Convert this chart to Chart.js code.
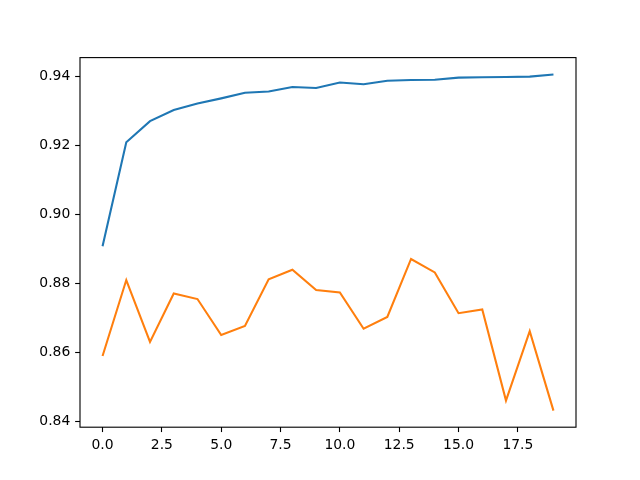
<!DOCTYPE html>
<html>
<head>
<meta charset="utf-8">
<script src="https://cdn.jsdelivr.net/npm/chart.js@4/dist/chart.umd.min.js"></script>
<style>
  html, body { margin: 0; padding: 0; background: #fff; }
  #wrap { width: 640px; height: 480px; }
</style>
</head>
<body>
<div id="wrap"><canvas id="c" width="640" height="480"></canvas></div>
<script>
const epochs = [0,1,2,3,4,5,6,7,8,9,10,11,12,13,14,15,16,17,18,19];
const seriesBlue = [0.8908,0.9209,0.9270,0.9302,0.9321,0.9336,0.9352,0.9356,0.9369,0.9366,0.9382,0.9377,0.9387,0.9389,0.9390,0.9396,0.9397,0.9398,0.9399,0.9405];
const seriesOrange = [0.8590,0.8810,0.8631,0.8771,0.8755,0.8651,0.8677,0.8812,0.8840,0.8781,0.8774,0.8669,0.8703,0.8871,0.8832,0.8714,0.8725,0.8461,0.8662,0.8432];
const xTicks = [0, 2.5, 5, 7.5, 10, 12.5, 15, 17.5];
const yTicks = [0.84, 0.86, 0.88, 0.90, 0.92, 0.94];

const PX = 1.3889;
const frame = {
  id: 'frame',
  afterDatasetsDraw(chart) {
    const a = chart.chartArea, ctx = chart.ctx;
    ctx.save();
    ctx.strokeStyle = '#000';
    ctx.lineWidth = 0.8 * PX;
    ctx.strokeRect(a.left, a.top, a.right - a.left, a.bottom - a.top);
    ctx.restore();
  }
};

const font = { family: 'DejaVu Sans', size: 13.9 };

new Chart(document.getElementById('c'), {
  type: 'line',
  data: {
    datasets: [
      { data: epochs.map((e, i) => ({ x: e, y: seriesBlue[i] })), borderColor: '#1f77b4', borderWidth: 1.5 * PX, pointRadius: 0, tension: 0, fill: false },
      { data: epochs.map((e, i) => ({ x: e, y: seriesOrange[i] })), borderColor: '#ff7f0e', borderWidth: 1.5 * PX, pointRadius: 0, tension: 0, fill: false }
    ]
  },
  options: {
    responsive: false,
    animation: false,
    devicePixelRatio: 1,
    layout: { padding: { left: 0, top: 57.6, right: 64, bottom: 0 } },
    plugins: { legend: { display: false }, tooltip: { enabled: false } },
    scales: {
      x: {
        type: 'linear',
        min: -0.95, max: 19.95,
        afterBuildTicks(s) { s.ticks = xTicks.map(v => ({ value: v })); },
        afterFit(s) { s.height = 480 - 427.2; },
        ticks: { font, color: '#000', padding: 3.5 * PX, maxRotation: 0, autoSkip: false,
          callback: v => Number(v).toFixed(1) },
        grid: { drawOnChartArea: false, tickLength: 3.5 * PX, tickColor: '#000', tickWidth: 0.8 * PX },
        border: { display: false }
      },
      y: {
        type: 'linear',
        min: 0.8384, max: 0.9454,
        afterBuildTicks(s) { s.ticks = yTicks.map(v => ({ value: v })); },
        afterFit(s) { s.width = 80; },
        ticks: { font, color: '#000', padding: 3.5 * PX, autoSkip: false,
          callback: v => Number(v).toFixed(2) },
        grid: { drawOnChartArea: false, tickLength: 3.5 * PX, tickColor: '#000', tickWidth: 0.8 * PX },
        border: { display: false }
      }
    }
  },
  plugins: [frame]
});
</script>
</body>
</html>
